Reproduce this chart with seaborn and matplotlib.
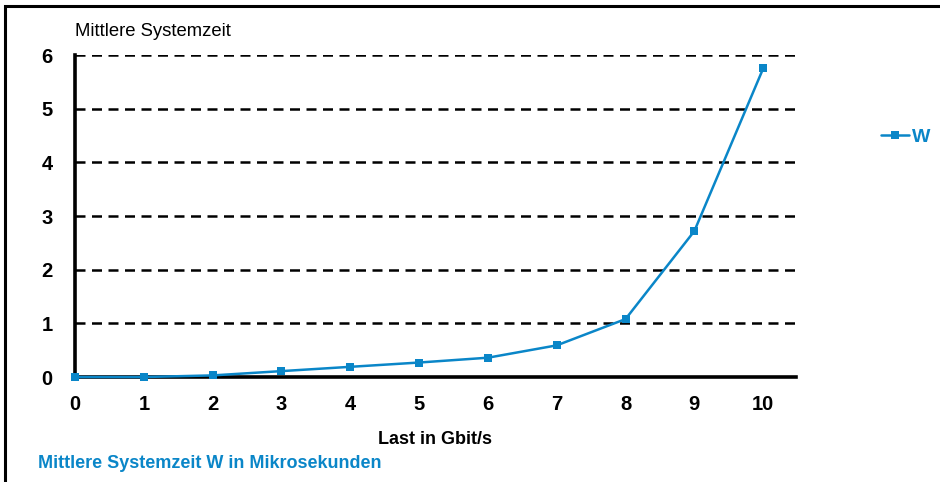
import pandas as pd
import matplotlib
matplotlib.use("Agg")
import matplotlib.pyplot as plt
import seaborn as sns
from matplotlib.patches import Rectangle

# Werte
last = [0, 1, 2, 3, 4, 5, 6, 7, 8, 9, 10]
w_werte = [0.0, 0.0, 0.03, 0.11, 0.19, 0.27, 0.36, 0.59, 1.08, 2.72, 5.75]
y_ticks = [0, 1, 2, 3, 4, 5, 6]

blau = "#0a86c8"

sns.set_style("white")
plt.rcParams['font.family'] = ['Liberation Sans', 'DejaVu Sans']
plt.rcParams['text.color'] = 'black'
plt.rcParams['xtick.color'] = 'black'
plt.rcParams['ytick.color'] = 'black'
plt.rcParams['axes.labelcolor'] = 'black'

df = pd.DataFrame({"Last": last, "W": w_werte})

fig = plt.figure(figsize=(9.4, 4.82), dpi=100)
ax = fig.add_axes([0.0798, 0.2178, 0.7665, 0.668])

sns.lineplot(data=df, x="Last", y="W", ax=ax, color=blau, linewidth=1.8,
             marker="s", markersize=5.5, markeredgewidth=0, label="W",
             clip_on=False, zorder=5)

ax.set_xlim(0, 10.47)
ax.set_ylim(0, 6)
ax.set_xticks(last)
ax.set_yticks(y_ticks)
ax.tick_params(length=0, labelsize=14.5)
ax.tick_params(axis="y", pad=16)
ax.tick_params(axis="x", pad=13)
for lab in ax.get_xticklabels() + ax.get_yticklabels():
    lab.set_fontweight("bold")

for y in y_ticks[1:]:
    ax.axhline(y, color="black", linestyle=(0, (4, 2.6)), linewidth=1.8, zorder=0)

for s in ["top", "right"]:
    ax.spines[s].set_visible(False)
for s in ["left", "bottom"]:
    ax.spines[s].set_color("black")
    ax.spines[s].set_linewidth(2.6)

ax.set_xlabel("Last in Gbit/s", fontsize=13, fontweight="bold", labelpad=12)
ax.set_ylabel("")

fig.text(75 / 940, 1 - 32 / 482, "Mittlere Systemzeit", fontsize=13.3,
         ha="left", va="center")
fig.text(38 / 940, 1 - 464 / 482, "Mittlere Systemzeit W in Mikrosekunden",
         fontsize=13, fontweight="bold", color=blau, ha="left", va="center")

leg = ax.legend(loc="center left", bbox_to_anchor=(1.095, 0.744), frameon=False,
                handlelength=1.4, handletextpad=0.15, prop={"weight": "bold", "size": 14})
for t in leg.get_texts():
    t.set_color(blau)

fig.patches.append(Rectangle((5 / 940, -0.1), 1.1, 1 - 6 / 482 + 0.1,
                             transform=fig.transFigure, fill=False,
                             edgecolor="black", linewidth=2.2))

fig.savefig("out.png", dpi=100)
